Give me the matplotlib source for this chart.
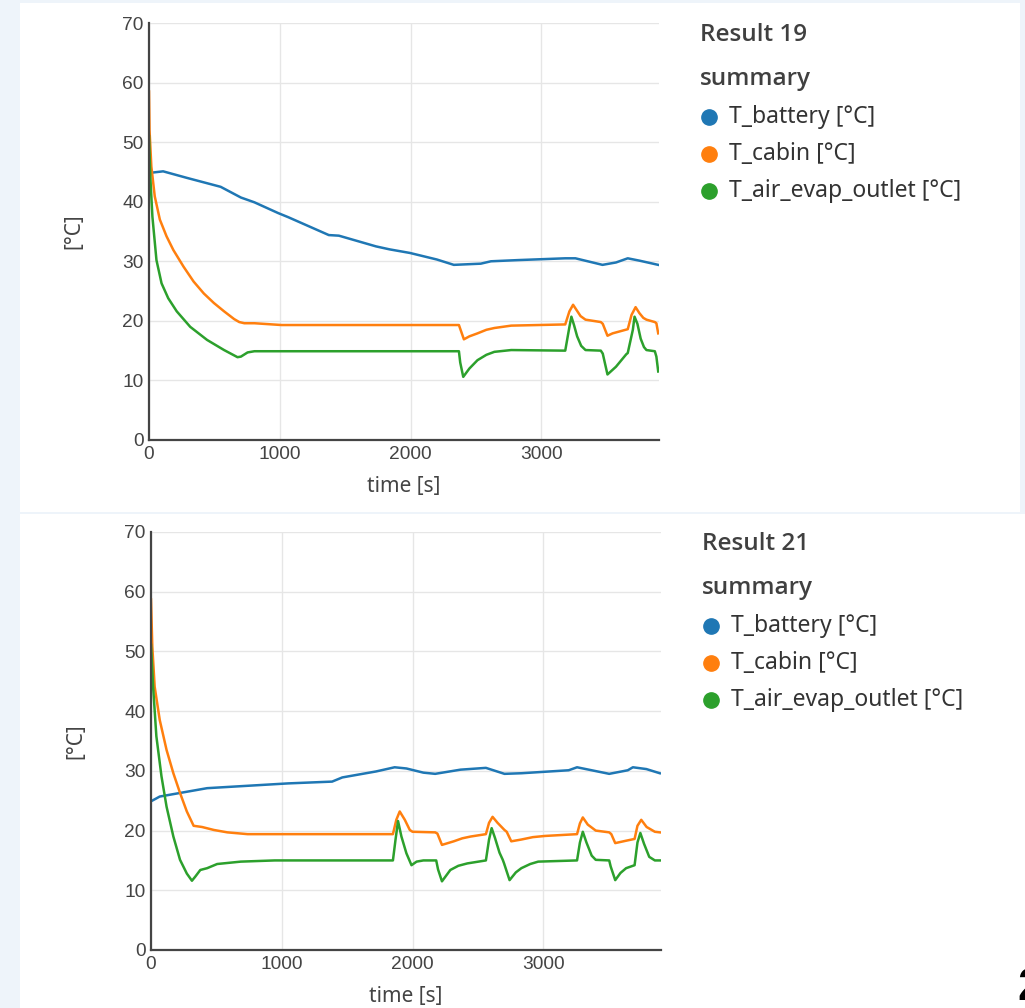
import matplotlib
matplotlib.use("Agg")
import matplotlib.pyplot as plt
from matplotlib.lines import Line2D
from matplotlib.patches import Rectangle

# Result 19 (top chart)
r19_battery_t = [0, 30, 108, 290, 548, 703, 806, 987, 1065, 1375, 1452, 1736, 1840, 1995,
                 2201, 2331, 2537, 2615, 2822, 3183, 3261, 3468, 3571, 3661, 3752, 3894]
r19_battery = [45.0, 44.9, 45.1, 44.0, 42.5, 40.7, 39.9, 38.1, 37.4, 34.4, 34.3, 32.5, 32.0, 31.4,
               30.3, 29.4, 29.6, 30.0, 30.2, 30.5, 30.5, 29.4, 29.8, 30.5, 30.1, 29.4]

r19_cabin_t = [0, 4, 18, 44, 83, 134, 186, 264, 341, 419, 496, 574, 651, 690, 729, 806, 1013,
               2370, 2408, 2450, 2512, 2580, 2641, 2770, 3183, 3215, 3243, 3270, 3300, 3338, 3455,
               3470, 3506, 3545, 3661, 3690, 3721, 3750, 3780, 3804, 3868, 3880, 3894]
r19_cabin = [58.5, 52.0, 45.9, 40.9, 37.0, 34.2, 31.9, 29.1, 26.6, 24.6, 23.0, 21.6, 20.3, 19.8, 19.6, 19.6, 19.3,
             19.3, 16.9, 17.4, 17.9, 18.5, 18.8, 19.2, 19.4, 21.6, 22.7, 21.8, 20.8, 20.2, 19.8,
             19.5, 17.5, 17.9, 18.6, 21.0, 22.3, 21.3, 20.5, 20.2, 19.8, 19.6, 17.9]

r19_evap_t = [0, 10, 26, 57, 96, 147, 212, 315, 444, 574, 677, 703, 754, 806, 1478, 2370, 2380,
              2403, 2450, 2512, 2580, 2641, 2770, 3183, 3215, 3230, 3250, 3274, 3305, 3338, 3455,
              3470, 3506, 3571, 3650, 3661, 3700, 3713, 3735, 3760, 3785, 3804, 3868, 3880, 3894]
r19_evap = [51.0, 44.2, 37.5, 30.2, 26.3, 23.8, 21.6, 19.0, 16.8, 15.1, 13.9, 14.0, 14.7, 14.9, 14.9, 14.9, 13.0,
            10.6, 12.0, 13.4, 14.3, 14.8, 15.1, 15.0, 19.0, 20.7, 19.3, 17.4, 15.8, 15.1, 15.0,
            14.5, 11.0, 12.3, 14.4, 14.6, 18.5, 20.7, 19.5, 17.0, 15.6, 15.1, 14.9, 14.0, 11.5]

# Result 21 (bottom chart)
r21_battery_t = [0, 67, 222, 429, 739, 1049, 1385, 1463, 1721, 1863, 1953, 2083, 2173, 2367,
                 2561, 2703, 2832, 3194, 3258, 3504, 3646, 3685, 3788, 3891]
r21_battery = [24.9, 25.7, 26.3, 27.1, 27.5, 27.9, 28.2, 28.9, 29.9, 30.6, 30.4, 29.7, 29.5, 30.2,
               30.5, 29.5, 29.6, 30.1, 30.6, 29.5, 30.1, 30.6, 30.3, 29.6]

r21_cabin_t = [0, 10, 28, 67, 119, 171, 222, 274, 326, 390, 481, 584, 739, 946, 1850, 1876, 1902,
               1941, 1979, 2000, 2173, 2190, 2225, 2270, 2315, 2380, 2444, 2561, 2585, 2612, 2650,
               2703, 2720, 2755, 2832, 2920, 3013, 3258, 3280, 3302, 3340, 3401, 3504, 3520, 3550,
               3633, 3698, 3720, 3749, 3790, 3853, 3891]
r21_cabin = [58.7, 50.8, 44.1, 38.5, 33.5, 29.6, 26.3, 23.2, 20.8, 20.6, 20.1, 19.7, 19.4, 19.4, 19.4, 21.8, 23.2,
             21.8, 20.1, 19.8, 19.7, 19.5, 17.6, 17.9, 18.2, 18.7, 19.0, 19.4, 21.3, 22.3, 21.3,
             20.1, 19.8, 18.2, 18.5, 18.9, 19.1, 19.4, 21.2, 22.2, 21.0, 20.0, 19.7, 19.4, 17.9,
             18.3, 18.6, 20.8, 21.8, 20.6, 19.8, 19.7]

r21_evap_t = [0, 16, 41, 80, 119, 171, 222, 274, 313, 339, 377, 429, 506, 687, 946, 1850, 1870,
              1889, 1915, 1953, 1992, 2031, 2083, 2181, 2195, 2225, 2289, 2350, 2419, 2561, 2585,
              2605, 2630, 2665, 2690, 2700, 2742, 2790, 2832, 2900, 2961, 3258, 3280, 3302, 3330,
              3370, 3401, 3504, 3515, 3550, 3590, 3633, 3698, 3720, 3742, 3770, 3810, 3853, 3891]
r21_evap = [51.1, 44.1, 35.8, 29.1, 24.0, 19.0, 15.1, 12.8, 11.6, 12.3, 13.4, 13.7, 14.4, 14.8, 15.0, 15.0, 18.5,
            21.6, 19.0, 16.2, 14.2, 14.8, 15.0, 15.0, 13.5, 11.5, 13.4, 14.1, 14.5, 15.0, 18.5,
            20.4, 18.8, 16.3, 15.1, 14.5, 11.7, 13.0, 13.7, 14.4, 14.8, 15.0, 18.0, 19.8, 18.0,
            15.8, 15.1, 15.0, 14.0, 11.7, 12.9, 13.7, 14.2, 18.0, 19.6, 17.8, 15.6, 15.0, 15.0]

series_names = ["T_battery [°C]", "T_cabin [°C]", "T_air_evap_outlet [°C]"]
series_colors = ["#1f77b4", "#ff7f0e", "#2ca02c"]
y_ticks = [0, 10, 20, 30, 40, 50, 60, 70]
x_ticks = [0, 1000, 2000, 3000]

W, H = 1025, 1008
fig = plt.figure(figsize=(W / 100, H / 100), dpi=100)
fig.patch.set_facecolor("#eef4fa")


def fx(x):
    return x / W


def fy(y):
    return 1 - y / H


# white page panels
fig.add_artist(Rectangle((fx(20), fy(512)), fx(1000), 509 / H, transform=fig.transFigure,
                         facecolor="white", edgecolor="none", zorder=0))
fig.add_artist(Rectangle((fx(20), 0), fx(1005), fy(514), transform=fig.transFigure,
                         facecolor="white", edgecolor="none", zorder=0))

tick_font = "Liberation Sans"
ui_font = "Noto Sans"
title_font = "Open Sans"


def draw_chart(box, title, data):
    left, top, right, bottom = box
    ax = fig.add_axes([fx(left), fy(bottom), fx(right - left), (bottom - top) / H])
    ax.set_facecolor("none")
    for (t, v), c, name in zip(data, series_colors, series_names):
        ax.plot(t, v, color=c, lw=1.8, label=name, solid_joinstyle="round")
    ax.set_xlim(0, 3900)
    ax.set_ylim(0, 70)
    ax.set_xticks(x_ticks)
    ax.set_yticks(y_ticks)
    ax.grid(True, color="#e6e6e6", lw=1.0)
    ax.set_axisbelow(True)
    for s in ["top", "right"]:
        ax.spines[s].set_visible(False)
    for s in ["left", "bottom"]:
        ax.spines[s].set_color("#444444")
        ax.spines[s].set_linewidth(1.6)
    ax.tick_params(length=0, pad=4, labelsize=13.8, labelcolor="#444444")
    for lab in ax.get_xticklabels() + ax.get_yticklabels():
        lab.set_fontfamily(tick_font)
    ax.set_xlabel("time [s]", fontsize=15, color="#444444", family=ui_font, labelpad=10)
    ax.set_ylabel("[°C]", fontsize=15, color="#444444", family=ui_font, labelpad=27)

    # legend block to the right
    lx = right + 41
    fig.text(fx(lx), fy(top + 12), title, fontsize=17.5, fontweight="semibold", color="#404040",
             family=title_font, va="center", ha="left")
    fig.text(fx(lx), fy(top + 56), "summary", fontsize=17.5, fontweight="semibold", color="#404040",
             family=title_font, va="center", ha="left")
    for i, (c, name) in enumerate(zip(series_colors, series_names)):
        yy = top + 94 + i * 37
        fig.add_artist(Line2D([fx(lx + 9)], [fy(yy)], marker="o", markersize=11, color=c,
                              ls="none", transform=fig.transFigure))
        fig.text(fx(lx + 29), fy(yy), name, fontsize=16.5, color="#333333", family=ui_font,
                 va="center", ha="left")
    return ax


draw_chart((149, 23, 659, 440), "Result 19",
           [(r19_battery_t, r19_battery), (r19_cabin_t, r19_cabin), (r19_evap_t, r19_evap)])
draw_chart((151, 532, 661, 950), "Result 21",
           [(r21_battery_t, r21_battery), (r21_cabin_t, r21_cabin), (r21_evap_t, r21_evap)])

# cut-off page number at the lower right edge
fig.text(fx(1017), fy(1010), "2", fontsize=34, fontweight="bold", color="black",
         family="Liberation Sans", ha="left", va="bottom")

fig.savefig("out.png", dpi=100, facecolor=fig.get_facecolor())
